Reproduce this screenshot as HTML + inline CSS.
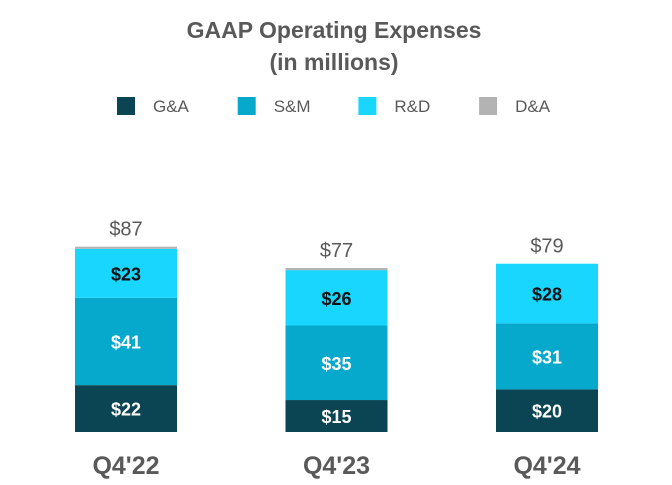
<!DOCTYPE html>
<html><head><meta charset="utf-8"><style>
body{margin:0;background:#fff;width:672px;height:480px;overflow:hidden}
svg{font-family:"Liberation Sans",sans-serif}
</style></head><body>
<svg id="chart" width="672" height="480">
<text x="334" y="38" text-anchor="middle" font-size="23" font-weight="bold" fill="#595959">GAAP Operating Expenses</text>
<text x="334" y="70" text-anchor="middle" font-size="23" font-weight="bold" fill="#595959">(in millions)</text>
<g id="legend"></g>
<g id="bars"></g>
</svg>
<script>
const categories=["Q4'22","Q4'23","Q4'24"];
const ga=[22,15,20];
const sm=[41,35,31];
const rd=[23,26,28];
const da=[1,1,0];
const totals=[87,77,79];
const seriesNames=["G&A","S&M","R&D","D&A"];
const colors=["#0b4452","#06a8cc","#19d6ff","#b3b3b3"];
const labelColors=["#fff","#fff","#111",null];
const ns="http://www.w3.org/2000/svg";
const svg=document.getElementById('chart');
const base=432, scale=2.13, bw=102;
const x=i=>75+i*210.5;
const y=v=>base-v*scale;
function mk(t,a,p){const e=document.createElementNS(ns,t);for(const k in a)e.setAttribute(k,a[k]);p.appendChild(e);return e;}
const lg=document.getElementById('legend');
seriesNames.forEach((n,i)=>{
  const r=mk('rect',{x:117+i*120.7,y:97,width:18,height:18,fill:colors[i]},lg);
  
  
  const t=mk('text',{x:153+i*120.7,y:112,'font-size':17,fill:'#595959'},lg);
  t.textContent=n;
  
  
});
const bg=document.getElementById('bars');
const series=[ga,sm,rd,da];
categories.forEach((c,i)=>{
  let cum=0;
  series.forEach((s,j)=>{
    const v=s[i]; if(!v) return;
    const r=mk('rect',{x:x(i),y:y(cum+v),width:bw,height:v*scale,fill:colors[j]},bg);
    
    
    if(labelColors[j]){
      const t=mk('text',{x:x(i)+bw/2,y:y(cum+v/2)+7,'text-anchor':'middle','font-size':18,'font-weight':'bold',fill:labelColors[j]},bg);
      t.textContent='$'+v;
      
      
    }
    cum+=v;
  });
  const tt=mk('text',{x:x(i)+bw/2,y:y(totals[i])-11,'text-anchor':'middle','font-size':20,fill:'#595959'},bg);
  tt.textContent='$'+totals[i];
  
  
  const ct=mk('text',{x:x(i)+bw/2,y:474,'text-anchor':'middle','font-size':25,'font-weight':'bold',fill:'#595959'},bg);
  ct.textContent=c;
  
  
});
</script>
</body></html>
